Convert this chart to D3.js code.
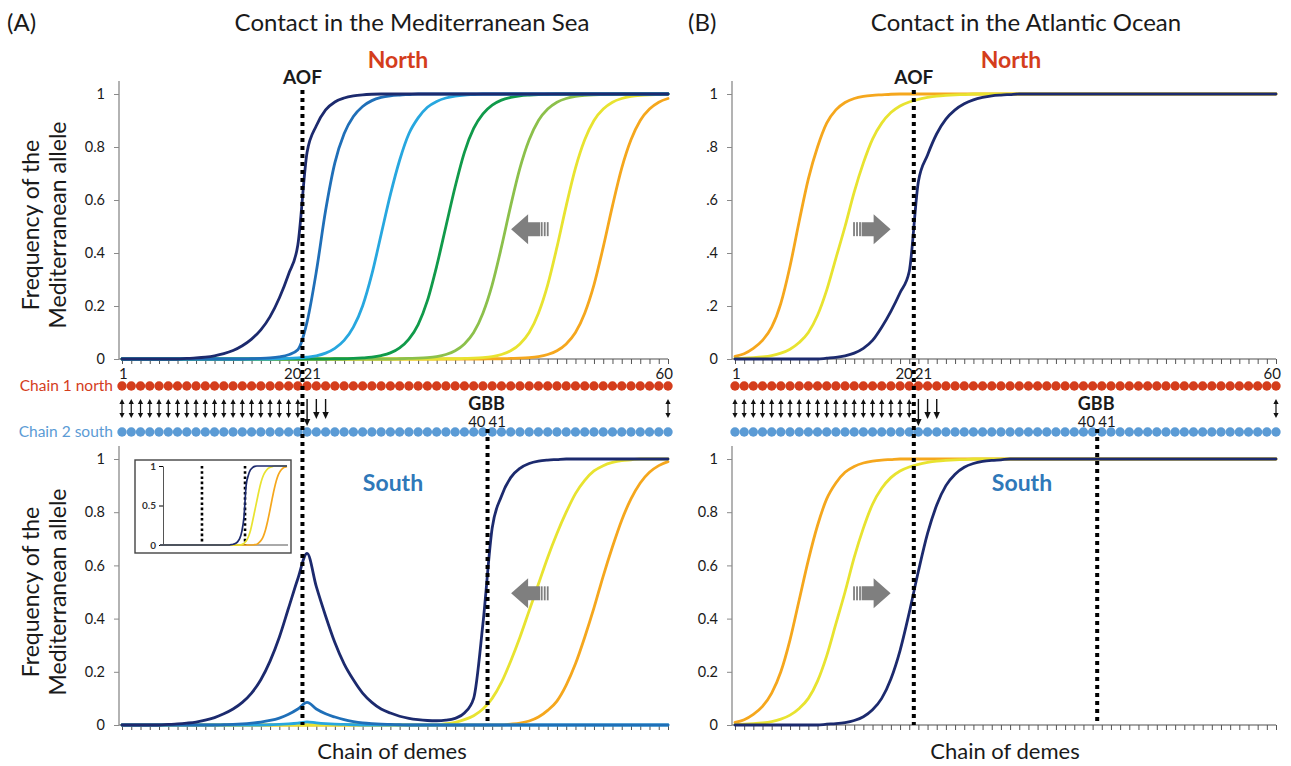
<!DOCTYPE html>
<html><head><meta charset="utf-8">
<script src="https://cdn.jsdelivr.net/npm/d3@7"></script>
<style>body{margin:0;background:#fff} svg{display:block} text{font-family:Lato,"Open Sans",sans-serif}</style>
</head><body><svg id="c" width="1291" height="766"></svg>
<script>
// ---------------- DATA ----------------
const demes = d3.range(1, 61);
const yTicks = [0, 0.2, 0.4, 0.6, 0.8, 1];
const yLabelsStd = ["0", "0.2", "0.4", "0.6", "0.8", "1"];
const yLabelsShort = ["0", ".2", ".4", ".6", ".8", "1"];
const insetTicks = [0, 0.5, 1];
const insetLabels = ["0", "0.5", "1"];
const chainLabels = ["Chain 1 north", "Chain 2 south"];
const dequeLabels = {first: "1", aofL: "20", aofR: "21", gbbL: "40", gbbR: "41", last: "60"};
const doubleArrowDemes = [1,2,3,4,5,6,7,8,9,10,11,12,13,14,15,16,17,18,19,20,60];
const downArrowDemes = [21, 22, 23];
const aofPos = 20.5, gbbPos = 40.5;

// Panel A top (Mediterranean, North)
const aTopNavy = [0,0,0,0,0,0,0,0.002,0.004,0.007, 0.012,0.02,0.032,0.05,0.075,0.11,0.16,0.23,0.32,0.43,
  0.78,0.88,0.94,0.97,0.985,0.993,0.997,0.999,1,1, 1,1,1,1,1,1,1,1,1,1, 1,1,1,1,1,1,1,1,1,1, 1,1,1,1,1,1,1,1,1,1];
const aTopBlue = [0,0,0,0,0,0,0,0,0,0, 0,0,0,0,0.001,0.002,0.004,0.008,0.016,0.035,
  0.14,0.33,0.56,0.74,0.85,0.915,0.953,0.975,0.987,0.993, 0.996,0.998,1,1,1,1,1,1,1,1, 1,1,1,1,1,1,1,1,1,1, 1,1,1,1,1,1,1,1,1,1];
const aTopLightBlue = [0,0,0,0,0,0,0,0,0,0, 0,0,0,0,0,0,0,0.001,0.002,0.004,
  0.007,0.012,0.022,0.04,0.07,0.12,0.2,0.32,0.47,0.62, 0.75,0.85,0.91,0.95,0.972,0.985,0.992,0.996,0.998,1, 1,1,1,1,1,1,1,1,1,1, 1,1,1,1,1,1,1,1,1,1];
const aTopGreen = [0,0,0,0,0,0,0,0,0,0, 0,0,0,0,0,0,0,0,0,0,
  0,0,0,0.001,0.001,0.002,0.004,0.007,0.013,0.023, 0.042,0.075,0.13,0.22,0.35,0.5,0.65,0.78,0.87,0.925,
  0.958,0.977,0.987,0.993,0.996,0.998,0.999,1,1,1, 1,1,1,1,1,1,1,1,1,1];
const aTopLightGreen = [0,0,0,0,0,0,0,0,0,0, 0,0,0,0,0,0,0,0,0,0, 0,0,0,0,0,0,0,0,0,0,
  0.001,0.002,0.003,0.005,0.009,0.017,0.031,0.057,0.1,0.173, 0.28,0.422,0.578,0.72,0.827,0.9,0.943,0.969,0.983,0.991,
  0.995,0.997,0.998,0.999,1,1,1,1,1,1];
const aTopYellow = [0,0,0,0,0,0,0,0,0,0, 0,0,0,0,0,0,0,0,0,0, 0,0,0,0,0,0,0,0,0,0,
  0,0,0,0,0,0.001,0.001,0.002,0.003,0.005, 0.009,0.017,0.031,0.057,0.1,0.173,0.28,0.422,0.578,0.72,
  0.827,0.9,0.943,0.969,0.983,0.991,0.995,0.997,0.998,0.999];
const aTopOrange = [0,0,0,0,0,0,0,0,0,0, 0,0,0,0,0,0,0,0,0,0, 0,0,0,0,0,0,0,0,0,0, 0,0,0,0,0,0,0,0,0,0,
  0.001,0.001,0.002,0.003,0.005,0.009,0.017,0.031,0.057,0.1, 0.173,0.28,0.422,0.578,0.72,0.827,0.9,0.943,0.969,0.983];

// Panel A bottom (Mediterranean, South)
const aBotNavy = [0,0,0,0,0,0.002,0.004,0.007,0.011,0.018, 0.028,0.042,0.06,0.085,0.12,0.17,0.24,0.33,0.44,0.55,
  0.645,0.52,0.41,0.31,0.23,0.17,0.12,0.085,0.06,0.045, 0.033,0.025,0.02,0.017,0.016,0.018,0.025,0.045,0.1,0.38,
  0.74,0.86,0.93,0.965,0.983,0.992,0.996,0.998,1,1, 1,1,1,1,1,1,1,1,1,1];
const aBotBlue = [0,0,0,0,0,0,0,0,0,0, 0,0.001,0.002,0.004,0.007,0.011,0.017,0.026,0.04,0.06,
  0.085,0.06,0.042,0.03,0.02,0.013,0.008,0.005,0.003,0.002, 0.001,0,0,0,0,0,0,0,0,0, 0,0,0,0,0,0,0,0,0,0, 0,0,0,0,0,0,0,0,0,0];
const aBotLightBlue = [0,0,0,0,0,0,0,0,0,0, 0,0,0,0,0,0,0.001,0.002,0.004,0.007,
  0.012,0.008,0.005,0.003,0.002,0.001,0,0,0,0, 0,0,0,0,0,0,0,0,0,0, 0,0,0,0,0,0,0,0,0,0, 0,0,0,0,0,0,0,0,0,0];
const aBotYellow = [0,0,0,0,0,0,0,0,0,0, 0,0,0,0,0,0,0,0,0,0, 0,0,0,0,0,0,0,0,0,0,
  0,0,0,0,0,0.005,0.01,0.02,0.035,0.06, 0.1,0.16,0.24,0.33,0.43,0.53,0.63,0.72,0.8,0.87,
  0.92,0.955,0.975,0.987,0.994,0.997,1,1,1,1];
const aBotOrange = [0,0,0,0,0,0,0,0,0,0, 0,0,0,0,0,0,0,0,0,0, 0,0,0,0,0,0,0,0,0,0, 0,0,0,0,0,0,0,0,0,0,
  0,0,0.003,0.007,0.015,0.03,0.055,0.09,0.15,0.23, 0.33,0.44,0.56,0.67,0.77,0.85,0.91,0.95,0.975,0.99];

// Inset (panel A bottom)
const insetNavy = [0,0,0,0,0,0,0,0,0,0, 0,0,0,0,0,0,0,0,0,0, 0,0,0,0,0,0,0,0,0,0,
  0,0,0,0.005,0.01,0.02,0.04,0.08,0.17,0.35, 0.75,0.88,0.95,0.98,0.995,1,1,1,1,1, 1,1,1,1,1,1,1,1,1,1];
const insetYellow = [0,0,0,0,0,0,0,0,0,0, 0,0,0,0,0,0,0,0,0,0, 0,0,0,0,0,0,0,0,0,0,
  0,0,0,0,0,0,0,0,0.005,0.02, 0.05,0.1,0.18,0.3,0.43,0.56,0.69,0.8,0.88,0.93, 0.965,0.98,0.99,1,1,1,1,1,1,1];
const insetOrange = [0,0,0,0,0,0,0,0,0,0, 0,0,0,0,0,0,0,0,0,0, 0,0,0,0,0,0,0,0,0,0, 0,0,0,0,0,0,0,0,0,0,
  0,0,0,0,0.005,0.01,0.03,0.06,0.11,0.19, 0.3,0.43,0.57,0.7,0.81,0.89,0.94,0.97,0.985,0.995];

// Panel B top (Atlantic, North)
const bTopOrange = [0.01,0.02,0.04,0.07,0.12,0.21,0.35,0.52,0.68,0.8, 0.89,0.94,0.968,0.983,0.991,0.995,0.997,0.999,1,1,
  1,1,1,1,1,1,1,1,1,1, 1,1,1,1,1,1,1,1,1,1, 1,1,1,1,1,1,1,1,1,1, 1,1,1,1,1,1,1,1,1,1];
const bTopYellow = [0.002,0.003,0.005,0.008,0.013,0.022,0.037,0.062,0.1,0.165, 0.26,0.38,0.5,0.63,0.74,0.83,0.89,0.93,0.955,0.97,
  0.98,0.987,0.992,0.995,0.997,0.998,1,1,1,1, 1,1,1,1,1,1,1,1,1,1, 1,1,1,1,1,1,1,1,1,1, 1,1,1,1,1,1,1,1,1,1];
const bTopNavy = [0,0,0,0,0,0,0,0,0,0, 0.003,0.006,0.012,0.022,0.04,0.07,0.12,0.18,0.25,0.33,
  0.67,0.77,0.85,0.905,0.94,0.963,0.978,0.987,0.993,0.996, 0.998,1,1,1,1,1,1,1,1,1, 1,1,1,1,1,1,1,1,1,1, 1,1,1,1,1,1,1,1,1,1];

// Panel B bottom (Atlantic, South)
const bBotOrange = [0.01,0.02,0.04,0.07,0.12,0.2,0.32,0.47,0.62,0.75, 0.85,0.91,0.95,0.972,0.985,0.992,0.996,0.998,1,1,
  1,1,1,1,1,1,1,1,1,1, 1,1,1,1,1,1,1,1,1,1, 1,1,1,1,1,1,1,1,1,1, 1,1,1,1,1,1,1,1,1,1];
const bBotYellow = [0.002,0.003,0.005,0.008,0.013,0.022,0.037,0.062,0.1,0.165, 0.26,0.38,0.5,0.63,0.74,0.83,0.89,0.93,0.955,0.97,
  0.98,0.987,0.992,0.995,0.997,0.998,1,1,1,1, 1,1,1,1,1,1,1,1,1,1, 1,1,1,1,1,1,1,1,1,1, 1,1,1,1,1,1,1,1,1,1];
const bBotNavy = [0,0,0,0,0,0,0,0,0,0, 0.003,0.005,0.009,0.017,0.031,0.057,0.1,0.173,0.28,0.422,
  0.578,0.72,0.827,0.9,0.943,0.969,0.983,0.991,0.995,0.997, 1,1,1,1,1,1,1,1,1,1, 1,1,1,1,1,1,1,1,1,1, 1,1,1,1,1,1,1,1,1,1];

// ---------------- STYLE ----------------
const C = {
  navy: "#1c2a6e", blue: "#1f6fb8", lblue: "#27a7df", green: "#109a4a", lgreen: "#8cc04b",
  yellow: "#e8e330", orange: "#f5a71d", red: "#d43d1c", chainBlue: "#5b9bd5", south: "#2f78b9",
  axis: "#8a8a8a", text: "#1a1a1a"
};

const svg = d3.select("#c");

const panels = [
  {key: "A", x0: 122, x1: 668, axisX: 119, yLabels: yLabelsStd, yLabelsBot: yLabelsStd,
   top: [[aTopOrange, C.orange],[aTopYellow, C.yellow],[aTopLightGreen, C.lgreen],[aTopGreen, C.green],[aTopLightBlue, C.lblue],[aTopBlue, C.blue],[aTopNavy, C.navy]],
   bot: [[aBotOrange, C.orange],[aBotYellow, C.yellow],[aBotLightBlue, C.lblue],[aBotBlue, C.blue],[aBotNavy, C.navy]],
   title: "Contact in the Mediterranean Sea", titleX: 412, tag: "(A)", tagX: 7,
   northX: 398, southX: 393, chainX: 392, arrowDir: -1, arrowDeme: 45.1},
  {key: "B", x0: 735, x1: 1276, axisX: 732, yLabels: yLabelsShort, yLabelsBot: yLabelsStd,
   top: [[bTopOrange, C.orange],[bTopYellow, C.yellow],[bTopNavy, C.navy]],
   bot: [[bBotOrange, C.orange],[bBotYellow, C.yellow],[bBotNavy, C.navy]],
   title: "Contact in the Atlantic Ocean", titleX: 1026, tag: "(B)", tagX: 688,
   northX: 1011, southX: 1022, chainX: 1005, arrowDir: 1, arrowDeme: 15.9}
];

const yTop = d3.scaleLinear([0, 1], [359, 94]);
const yBot = d3.scaleLinear([0, 1], [725, 459]);

function drawAxes(g, x, y, p, labels) {
  const xa = d3.axisBottom(x).tickValues(demes).tickSize(5).tickSizeOuter(0).tickFormat("");
  const gx = g.append("g").attr("transform", `translate(0,${y(0)})`).call(xa);
  gx.select(".domain").attr("d", `M${p.axisX},0H${x(60)}`).attr("stroke", C.axis).attr("stroke-width", 1.3);
  gx.selectAll(".tick line").attr("stroke", "#555");
  const ya = d3.axisLeft(y).tickValues(yTicks).tickSize(5).tickSizeOuter(0).tickFormat((d, i) => labels[i]);
  const gy = g.append("g").attr("transform", `translate(${p.axisX},0)`).call(ya);
  gy.select(".domain").attr("d", `M0,${y(1) - 13}V${y(0)}`).attr("stroke", C.axis).attr("stroke-width", 1.3);
  gy.selectAll(".tick line").attr("stroke", C.axis);
  gy.selectAll(".tick text").attr("font-size", 14.5).attr("fill", C.text).attr("x", -14).attr("font-family", "Lato, sans-serif");
}

function drawCurves(g, x, y, series, w) {
  const line = d3.line().x((d, i) => x(demes[i])).y(d => y(d)).curve(d3.curveMonotoneX);
  series.forEach(([vals, col]) => {
    g.append("path").attr("d", line(vals)).attr("fill", "none").attr("stroke", col)
      .attr("stroke-width", w).attr("stroke-linejoin", "round").attr("stroke-linecap", "round");
  });
}

function grayArrow(g, cx, cy, dir) {
  const a = g.append("g").attr("transform", `translate(${cx},${cy}) scale(${dir},1)`);
  a.append("path").attr("d", "M19,0 L2,-15 L2,-7 L-10,-7 L-10,7 L2,7 L2,15 Z").attr("fill", "#7f7f7f");
  [-12.5, -15.5, -18.5].forEach(sx => a.append("rect").attr("x", sx).attr("y", -7).attr("width", 1.8).attr("height", 14).attr("fill", "#7f7f7f"));
}

panels.forEach(p => {
  const x = d3.scaleLinear([1, 60], [p.x0, p.x1]);
  const g = svg.append("g");

  g.append("text").attr("x", p.tagX).attr("y", 31).attr("font-size", 24).attr("fill", C.text).text(p.tag);
  g.append("text").attr("x", p.titleX).attr("y", 31).attr("text-anchor", "middle").attr("font-size", 24).attr("fill", C.text).text(p.title);
  g.append("text").attr("x", p.northX).attr("y", 68).attr("text-anchor", "middle").attr("font-size", 23).attr("font-weight", "bold").attr("fill", C.red).text("North");
  g.append("text").attr("x", x(aofPos)).attr("y", 84).attr("text-anchor", "middle").attr("font-size", 19).attr("font-weight", "bold").attr("fill", C.text).text("AOF");
  g.append("text").attr("x", p.southX).attr("y", 491).attr("text-anchor", "middle").attr("font-size", 23).attr("font-weight", "bold").attr("fill", C.south).text("South");
  g.append("text").attr("x", p.chainX).attr("y", 759).attr("text-anchor", "middle").attr("font-size", 22).attr("fill", C.text).text("Chain of demes");

  drawAxes(g, x, yTop, p, p.yLabels);
  drawAxes(g, x, yBot, p, p.yLabelsBot);

  drawCurves(g, x, yTop, p.top, 2.8);
  drawCurves(g, x, yBot, p.bot, 2.8);

  g.append("g").selectAll("circle").data(demes).join("circle")
    .attr("cx", d => x(d)).attr("cy", 386).attr("r", 4.7).attr("fill", C.red);
  g.append("g").selectAll("circle").data(demes).join("circle")
    .attr("cx", d => x(d)).attr("cy", 432).attr("r", 4.7).attr("fill", C.chainBlue);

  const lab = (t, xx, yy, anchor) => g.append("text").attr("x", xx).attr("y", yy).attr("text-anchor", anchor)
    .attr("font-size", 15).attr("fill", C.text).text(t);
  lab(dequeLabels.first, x(1) - 3, 379, "start");
  lab(dequeLabels.aofL, x(aofPos) - 1, 379, "end");
  lab(dequeLabels.aofR, x(aofPos) + 1, 379, "start");
  lab(dequeLabels.last, x(60) + 5, 379, "end");
  lab(dequeLabels.gbbL, x(gbbPos) - 2, 427, "end");
  lab(dequeLabels.gbbR, x(gbbPos) + 1, 427, "start");
  g.append("text").attr("x", x(gbbPos) - 1).attr("y", 410).attr("text-anchor", "middle").attr("font-size", 18).attr("font-weight", "bold").attr("fill", C.text).text("GBB");

  doubleArrowDemes.forEach(d => {
    const xx = x(d);
    g.append("line").attr("x1", xx).attr("x2", xx).attr("y1", 402).attr("y2", 415).attr("stroke", "#111").attr("stroke-width", 1.2);
    g.append("path").attr("d", `M${xx - 2.6},404 L${xx},399 L${xx + 2.6},404 Z M${xx - 2.6},413 L${xx},418 L${xx + 2.6},413 Z`).attr("fill", "#111");
  });
  downArrowDemes.forEach((d, i) => {
    const xx = x(d), y2 = i === 0 ? 426 : 419;
    g.append("line").attr("x1", xx).attr("x2", xx).attr("y1", 399).attr("y2", y2 - 3).attr("stroke", "#111").attr("stroke-width", 1.4);
    g.append("path").attr("d", `M${xx - 3.2},${y2 - 7} L${xx},${y2} L${xx + 3.2},${y2 - 7} Z`).attr("fill", "#111");
  });

  grayArrow(g, x(p.arrowDeme), yTop(0.49), p.arrowDir);
  grayArrow(g, x(p.arrowDeme), yBot(0.495), p.arrowDir);

  g.append("line").attr("x1", x(aofPos)).attr("x2", x(aofPos)).attr("y1", 90).attr("y2", yBot(0))
    .attr("stroke", "#000").attr("stroke-width", 4).attr("stroke-dasharray", "4,4");
  g.append("line").attr("x1", x(gbbPos)).attr("x2", x(gbbPos)).attr("y1", 429).attr("y2", yBot(0))
    .attr("stroke", "#000").attr("stroke-width", 4).attr("stroke-dasharray", "4,4");

  if (p.key === "A") {
    [225, 592].forEach(cy => {
      g.append("text").attr("transform", `translate(39,${cy}) rotate(-90)`).attr("text-anchor", "middle").attr("font-size", 23).attr("fill", C.text).text("Frequency of the");
      g.append("text").attr("transform", `translate(66,${cy}) rotate(-90)`).attr("text-anchor", "middle").attr("font-size", 23).attr("fill", C.text).text("Mediterranean allele");
    });
    g.append("text").attr("x", 113).attr("y", 391).attr("text-anchor", "end").attr("font-size", 15.5).attr("fill", C.red).text(chainLabels[0]);
    g.append("text").attr("x", 113).attr("y", 437).attr("text-anchor", "end").attr("font-size", 15.5).attr("fill", C.chainBlue).text(chainLabels[1]);

    const ig = g.append("g");
    ig.append("rect").attr("x", 135).attr("y", 460).attr("width", 156).attr("height", 93).attr("fill", "#fff").attr("stroke", "#444").attr("stroke-width", 1.4);
    const ix = d3.scaleLinear([1, 60], [160, 287]);
    const iy = d3.scaleLinear([0, 1], [545, 466]);
    const iya = d3.axisLeft(iy).tickValues(insetTicks).tickSize(4).tickSizeOuter(0).tickFormat((d, i) => insetLabels[i]);
    const giy = ig.append("g").attr("transform", "translate(163,0)").call(iya);
    giy.select(".domain").attr("stroke", "#555");
    giy.selectAll(".tick text").attr("font-size", 10).attr("font-weight", "bold").attr("fill", "#333");
    ig.append("line").attr("x1", 163).attr("x2", 288).attr("y1", 545).attr("y2", 545).attr("stroke", "#555").attr("stroke-width", 1);
    [aofPos, gbbPos].forEach(d => ig.append("line").attr("x1", ix(d)).attr("x2", ix(d)).attr("y1", 466).attr("y2", 545)
      .attr("stroke", "#000").attr("stroke-width", 2.6).attr("stroke-dasharray", "2.6,2.6"));
    const il = d3.line().x((d, i) => ix(demes[i])).y(d => iy(d)).curve(d3.curveMonotoneX);
    [[insetOrange, C.orange], [insetYellow, C.yellow], [insetNavy, C.navy]].forEach(([v, c]) =>
      ig.append("path").attr("d", il(v)).attr("fill", "none").attr("stroke", c).attr("stroke-width", 1.7));
  }
});
</script></body></html>
